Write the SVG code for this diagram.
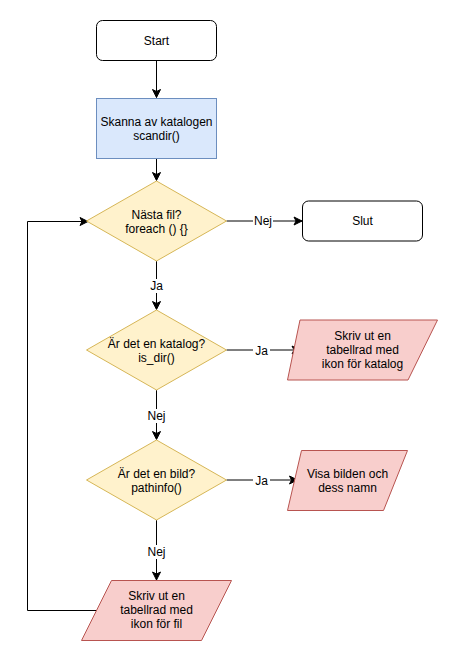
<svg xmlns="http://www.w3.org/2000/svg" width="458" height="661" viewBox="0 0 458 661">
<style>
text{font-family:"Liberation Sans",Arial,sans-serif;font-size:12px;fill:#000;text-anchor:middle;dominant-baseline:central}
.term{fill:#fff;stroke:#000;stroke-width:1}
.proc{fill:#dae8fc;stroke:#6c8ebf;stroke-width:1}
.dec{fill:#fff2cc;stroke:#d6b656;stroke-width:1}
.io{fill:#f8cecc;stroke:#b85450;stroke-width:1}
.edge{fill:none;stroke:#000;stroke-width:1}
.lbl{fill:#fff}
</style>
<defs>
<marker id="arr" markerUnits="userSpaceOnUse" markerWidth="10" markerHeight="10" viewBox="0 0 10 10" refX="9" refY="5" orient="auto">
<path d="M1,1 L9,5 L1,9 L3,5 Z" fill="#000" stroke="#000" stroke-width="1"/>
</marker>
</defs>
<rect width="458" height="661" fill="#fff"/>
<g id="connectors">
<path class="edge" d="M156.5,60.5 L156.5,97.5" marker-end="url(#arr)"/>
<path class="edge" d="M156.5,158.5 L156.5,180.5" marker-end="url(#arr)"/>
<path class="edge" d="M226.5,221 L302,221" marker-end="url(#arr)"/>
<path class="edge" d="M156.5,261 L156.5,309.5" marker-end="url(#arr)"/>
<path class="edge" d="M226.5,350 L300,350" marker-end="url(#arr)"/>
<path class="edge" d="M156.5,390 L156.5,439.5" marker-end="url(#arr)"/>
<path class="edge" d="M226.5,480 L297.5,480" marker-end="url(#arr)"/>
<path class="edge" d="M156.5,520 L156.5,580" marker-end="url(#arr)"/>
<path class="edge" d="M96.5,610.5 L27.5,610.5 L27.5,221.5 L88,221.5" marker-end="url(#arr)"/>
<rect class="lbl" x="253" y="214" width="20" height="14"/>
<text x="263" y="221">Nej</text>
<rect class="lbl" x="148" y="279" width="17" height="14"/>
<text x="156.5" y="286">Ja</text>
<rect class="lbl" x="253" y="344" width="17" height="14"/>
<text x="261.5" y="351">Ja</text>
<rect class="lbl" x="146.5" y="409" width="20" height="14"/>
<text x="156.5" y="416">Nej</text>
<rect class="lbl" x="253" y="474" width="17" height="14"/>
<text x="261.5" y="481">Ja</text>
<rect class="lbl" x="146.5" y="545" width="20" height="14"/>
<text x="156.5" y="552">Nej</text>
</g>
<g id="start">
<rect class="term" x="96.5" y="20.5" width="120" height="40" rx="6"/>
<text x="156.5" y="41">Start</text>
</g>
<g id="scan">
<rect class="proc" x="96.5" y="98.5" width="120" height="60"/>
<text x="156.5" y="121.5">Skanna av katalogen</text>
<text x="156.5" y="135.5">scandir()</text>
</g>
<g id="next">
<polygon class="dec" points="156.5,181 226.5,221 156.5,261 86.5,221"/>
<text x="156.5" y="214.5">Nästa fil?</text>
<text x="156.5" y="228.5">foreach () {}</text>
</g>
<g id="slut">
<rect class="term" x="302.5" y="201" width="120" height="40" rx="6"/>
<text x="362.5" y="221">Slut</text>
</g>
<g id="isdir">
<polygon class="dec" points="156.5,310 226.5,350 156.5,390 86.5,350"/>
<text x="156.5" y="344">Är det en katalog?</text>
<text x="156.5" y="358">is_dir()</text>
</g>
<g id="katalog">
<polygon class="io" points="300,320 437.5,320 408,380 287.5,380"/>
<text x="362.5" y="336">Skriv ut en</text>
<text x="362.5" y="350">tabellrad med</text>
<text x="362.5" y="364">ikon för katalog</text>
</g>
<g id="isimg">
<polygon class="dec" points="156.5,440 226.5,480 156.5,520 86.5,480"/>
<text x="156.5" y="473.5">Är det en bild?</text>
<text x="156.5" y="487.5">pathinfo()</text>
</g>
<g id="bild">
<polygon class="io" points="301.5,450.5 407.5,450.5 383.5,510.5 287.5,510.5"/>
<text x="347.5" y="473.5">Visa bilden och</text>
<text x="347.5" y="487.5">dess namn</text>
</g>
<g id="fil">
<polygon class="io" points="111.5,580.5 231.5,580.5 201.5,640.5 81.5,640.5"/>
<text x="156.5" y="596">Skriv ut en</text>
<text x="156.5" y="610">tabellrad med</text>
<text x="156.5" y="624">ikon för fil</text>
</g>
</svg>
